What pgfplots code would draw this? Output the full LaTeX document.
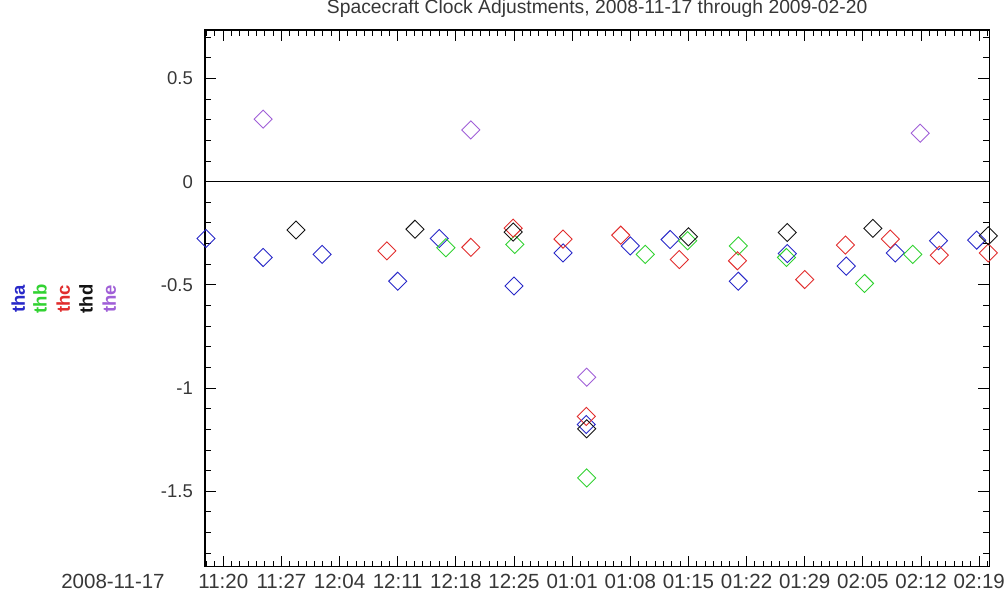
\documentclass[border=0pt]{standalone}
\usepackage{pgfplots}
\pgfplotsset{compat=1.18}
\usepackage{fontspec}
\setmainfont{Liberation Sans}

\definecolor{tha}{RGB}{40,40,200}
\definecolor{thb}{RGB}{50,210,50}
\definecolor{thc}{RGB}{225,45,45}
\definecolor{thd}{RGB}{20,20,20}
\definecolor{the}{RGB}{160,95,215}
\definecolor{txt}{RGB}{55,55,55}

\begin{document}
\begin{tikzpicture}
\begin{axis}[
  scale only axis, width=784.3pt, height=536.7pt,
  xmin=0.8, xmax=95.22, ymin=-1.865, ymax=0.735,
  axis line style={line width=1.3pt},
  tick pos=both, tick align=inside,
  major tick length=11pt, minor tick length=6pt,
  every tick/.style={black, line width=1pt},
  xtick={3,10,...,94},
  xticklabels={11:20,11:27,12:04,12:11,12:18,12:25,01:01,01:08,01:15,01:22,01:29,02:05,02:12,02:19},
  minor xtick={1,2,...,95},
  ytick={-1.5,-1,-0.5,0,0.5},
  minor ytick={-1.8,-1.7,...,0.71},
  tick label style={text=txt},
  xticklabel style={font=\fontsize{20.5}{22}\selectfont, anchor=base, inner sep=0pt, yshift=-22pt},
  yticklabel style={font=\fontsize{18.5}{20}\selectfont, anchor=east, inner sep=0pt, xshift=-12pt},
  /pgf/number format/assume math mode=true,
  title={Spacecraft Clock Adjustments, 2008-11-17 through 2009-02-20},
  title style={font=\fontsize{19.3}{21}\selectfont, text=txt, anchor=base, at={(0.5,1)}, yshift=10pt},
  dia/.style={only marks, mark=square, mark size=6.4pt, mark options={rotate=45, line width=0.9pt}},
]
% zero line
\addplot[black, line width=1.3pt, no marks, forget plot] coordinates {(0.8,0) (95.22,0)};

% tha
\addplot[dia, tha] coordinates {
  (0.92,-0.275) (7.8,-0.367) (14.9,-0.352) (24.0,-0.482) (29.0,-0.275)
  (38.0,-0.505) (43.9,-0.345) (46.7,-1.176) (52.0,-0.311) (56.8,-0.280)
  (65.0,-0.482) (70.9,-0.348) (78.0,-0.409) (83.9,-0.345) (89.1,-0.286)
  (93.7,-0.283)
};
% thb
\addplot[dia, thb] coordinates {
  (29.8,-0.320) (38.1,-0.304) (46.75,-1.435) (53.8,-0.352) (58.9,-0.286)
  (65.0,-0.311) (70.8,-0.367) (80.2,-0.493) (86.0,-0.352)
};
% thc
\addplot[dia, thc] coordinates {
  (22.7,-0.335) (32.8,-0.318) (37.9,-0.225) (43.9,-0.278) (46.7,-1.137)
  (50.85,-0.259) (57.9,-0.377) (64.9,-0.383) (73.0,-0.474) (77.9,-0.307)
  (83.3,-0.278) (89.2,-0.356) (95.1,-0.345)
};
% thd
\addplot[dia, thd] coordinates {
  (11.75,-0.234) (26.08,-0.230) (37.9,-0.244) (46.75,-1.197) (59.0,-0.267)
  (70.9,-0.246) (81.2,-0.226) (95.1,-0.262)
};
% the
\addplot[dia, the] coordinates {
  (7.8,0.303) (32.8,0.251) (46.75,-0.947) (86.9,0.235)
};
\end{axis}

\foreach \n/\x in {tha/-186.7, thb/-165, thc/-141.7, thd/-119, the/-95.7}
  \node[rotate=90, text=\n, inner sep=0pt, font=\bfseries\fontsize{18.5}{20}\selectfont]
    at ([shift={(\x pt,267.7pt)}]current axis.south west) {\n};

\node[anchor=base, inner sep=0pt, text=txt, font=\fontsize{20.5}{22}\selectfont]
  at ([shift={(-92pt,-22pt)}]current axis.south west) {2008-11-17};

\pgfresetboundingbox
\path[use as bounding box] ([shift={(-205pt,-26.3pt)}]current axis.south west)
  rectangle ([shift={(18.7pt,30pt)}]current axis.north east);
\end{tikzpicture}
\end{document}
